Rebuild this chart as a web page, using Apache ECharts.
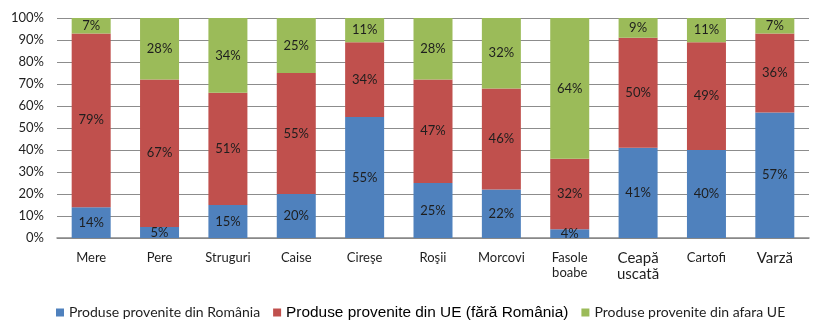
<!DOCTYPE html>
<html><head><meta charset="utf-8">
<script src="https://cdn.jsdelivr.net/npm/echarts@6/dist/echarts.min.js"></script>
<style>html,body{margin:0;padding:0;background:#fff}#c{width:827px;height:325px}</style>
</head><body><div id="c"></div>
<script>
const categories = ['Mere','Pere','Struguri','Caise','Cireşe','Roşii','Morcovi','Fasole\nboabe','Ceapă\nuscată','Cartofi','Varză'];
const seriesNames = ['Produse provenite din România','Produse provenite din UE (fără România)','Produse provenite din afara UE'];
const romania = [14,5,15,20,55,25,22,4,41,40,57];
const ue = [79,67,51,55,34,47,46,32,50,49,36];
const afara = [7,28,34,25,11,28,32,64,9,11,7];
const yTicks = ['0%','10%','20%','30%','40%','50%','60%','70%','80%','90%','100%'];
const bigLabels = ['Ceapă\nuscată','Varză'];
const colors = ['#4F81BD','#C0504D','#9BBB59'];
const FONT = 'Lato, "Open Sans", sans-serif';

const chart = echarts.init(document.getElementById('c'));
function mk(name, data, color){
  return {
    name, type:'bar', stack:'s', data, barWidth:39,
    itemStyle:{color},
    label:{show:true, position:'inside', formatter:'{c}%', color:'#1e1e1e', fontFamily:FONT, fontSize:13}
  };
}
chart.setOption({
  animation:false,
  grid:{left:57, right:18, top:18, bottom:87, containLabel:false},
  legend:{
    left:51, top:300, itemWidth:8, itemHeight:8, itemGap:13, icon:'rect',
    data:[
      {name:seriesNames[0], textStyle:{fontSize:14, fontFamily:FONT, color:'#1e1e1e'}},
      {name:seriesNames[1], textStyle:{fontSize:15.4, fontFamily:'"Liberation Sans Narrow", "Liberation Sans", sans-serif', color:'#000'}},
      {name:seriesNames[2], textStyle:{fontSize:14, fontFamily:FONT, color:'#1e1e1e'}}
    ]
  },
  xAxis:{
    type:'category', data:categories,
    axisLine:{lineStyle:{color:'#868686', width:1.5}},
    axisTick:{show:false},
    axisLabel:{
      interval:0, margin:12, color:'#1e1e1e', fontFamily:FONT, fontSize:13, lineHeight:15,
      formatter:v => bigLabels.includes(v) ? v.split('\n').map(s=>'{b|'+s+'}').join('\n') : v,
      rich:{b:{fontSize:15, fontFamily:FONT, color:'#1e1e1e', lineHeight:16}}
    }
  },
  yAxis:{
    type:'value', min:0, max:100, interval:10,
    axisLine:{show:false}, axisTick:{show:false},
    splitLine:{lineStyle:{color:'#8c8c8c', width:1}},
    axisLabel:{margin:13, color:'#1e1e1e', fontFamily:FONT, fontSize:13,
      formatter:v => yTicks[Math.round(v/10)]}
  },
  series:[mk(seriesNames[0], romania, colors[0]), mk(seriesNames[1], ue, colors[1]), mk(seriesNames[2], afara, colors[2])]
});
</script></body></html>
